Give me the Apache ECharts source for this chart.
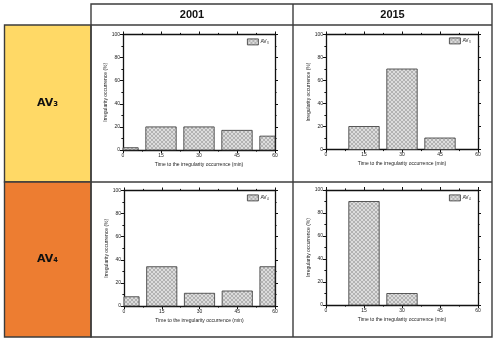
<!DOCTYPE html>
<html>
<head>
<meta charset="utf-8">
<script src="https://cdn.jsdelivr.net/npm/echarts@6/dist/echarts.min.js"></script>
<style>
  html, body { margin: 0; padding: 0; background: #fff; }
  #main { width: 500px; height: 343px; }
</style>
</head>
<body>
<div id="main"></div>
<script>
  // data
  const years = ['2001', '2015']
  const rows = ['AV₃', 'AV₄']
  const timeTicks = [0, 15, 30, 45, 60]
  const av3_2001 = [2, 20, 20, 17, 12]
  const av3_2015 = [0, 20, 70, 10, 0]
  const av4_2001 = [8, 34, 11, 13, 34]
  const av4_2015 = [0, 90, 10, 0, 0]
  const barSpan = 12 // bar width in minutes

  const panels = [
    { name: rows[0], values: av3_2001, grid: { left: 123, top: 34.5, width: 152, height: 115.5 }, legend: { left: 247, top: 38.5 } },
    { name: rows[0], values: av3_2015, grid: { left: 326, top: 34.5, width: 152, height: 115 }, legend: { left: 449, top: 37.5 } },
    { name: rows[1], values: av4_2001, grid: { left: 124, top: 190.5, width: 151, height: 115.5 }, legend: { left: 247, top: 194.5 } },
    { name: rows[1], values: av4_2015, grid: { left: 326, top: 190, width: 152, height: 115 }, legend: { left: 449, top: 194.5 } }
  ]

  // fine cross hatch fill for the bars
  function hatch() {
    const c = document.createElement('canvas')
    c.width = 4
    c.height = 4
    const ctx = c.getContext('2d')
    ctx.fillStyle = '#dcdcdc'
    ctx.fillRect(0, 0, 4, 4)
    ctx.fillStyle = '#b2b2b2'
    for (let i = 0; i < 4; i++) {
      ctx.fillRect(i, i, 1, 1)
      ctx.fillRect(3 - i, i, 1, 1)
    }
    return c
  }
  const pattern = { image: hatch(), repeat: 'repeat' }

  // bars centred on x, spanning barSpan minutes, clipped to the plot
  function renderBar(params, api) {
    const x = api.value(0)
    const y = api.value(1)
    const p0 = api.coord([x - barSpan / 2, y])
    const p1 = api.coord([x + barSpan / 2, 0])
    const cs = params.coordSys
    const shape = echarts.graphic.clipRectByRect(
      { x: p0[0], y: p0[1], width: p1[0] - p0[0], height: p1[1] - p0[1] },
      { x: cs.x, y: cs.y, width: cs.width, height: cs.height }
    )
    return shape && {
      type: 'rect',
      shape: shape,
      style: { fill: pattern, stroke: '#333', lineWidth: 0.8 }
    }
  }

  const black = '#111'
  const lineStyle = { color: black, width: 1.3 }
  const tick = { show: true, length: 3, lineStyle: { color: black, width: 1 } }
  const minor = { show: true, splitNumber: 2, length: 1.6, lineStyle: { color: black, width: 1 } }
  const label = { fontSize: 5, color: '#222', fontFamily: 'Liberation Sans' }

  const grid = [], xAxis = [], yAxis = [], series = [], legend = []
  panels.forEach((p, i) => {
    grid.push(Object.assign({ show: false }, p.grid))
    // bottom and top x axes
    xAxis.push({
      gridIndex: i, type: 'value', min: 0, max: 60, interval: 15, position: 'bottom',
      axisLine: { onZero: false, lineStyle: lineStyle },
      axisTick: tick, minorTick: minor, splitLine: { show: false },
      axisLabel: Object.assign({ margin: 3 }, label),
      name: 'Time to the irregularity occurrence (min)', nameLocation: 'middle', nameGap: 12,
      nameTextStyle: label
    })
    xAxis.push({
      gridIndex: i, type: 'value', min: 0, max: 60, interval: 15, position: 'top',
      axisLine: { onZero: false, lineStyle: lineStyle },
      axisTick: tick, minorTick: minor, splitLine: { show: false },
      axisLabel: { show: false }
    })
    // left and right y axes
    yAxis.push({
      gridIndex: i, type: 'value', min: 0, max: 100, interval: 20, position: 'left',
      axisLine: { show: true, onZero: false, lineStyle: lineStyle },
      axisTick: tick, minorTick: minor, splitLine: { show: false },
      axisLabel: Object.assign({ margin: 3 }, label),
      name: 'Irregularity occurrence (%)', nameLocation: 'middle', nameGap: 14,
      nameTextStyle: label
    })
    yAxis.push({
      gridIndex: i, type: 'value', min: 0, max: 100, interval: 20, position: 'right',
      axisLine: { show: true, onZero: false, lineStyle: lineStyle },
      axisTick: tick, minorTick: minor, splitLine: { show: false },
      axisLabel: { show: false }
    })
    series.push({
      name: p.name, type: 'custom',
      xAxisIndex: i * 2, yAxisIndex: i * 2,
      renderItem: renderBar,
      itemStyle: { color: pattern, borderColor: '#333', borderWidth: 0.8 },
      encode: { x: 0, y: 1 },
      data: timeTicks.map((t, k) => [t, p.values[k]]).filter(d => d[1] > 0)
    })
    legend.push({
      left: p.legend.left, top: p.legend.top, padding: 0,
      itemWidth: 11, itemHeight: 6, itemGap: 2,
      icon: 'rect',
      data: [p.name],
      itemStyle: { color: pattern, borderColor: '#333', borderWidth: 0.8 },
      textStyle: { fontSize: 5, color: '#222', padding: [0, 0, 0, -3] }
    })
  })

  // the table around the charts
  const border = { stroke: '#3c3c3c', lineWidth: 1.4 }
  const graphic = [
    { type: 'rect', shape: { x: 4.5, y: 25, width: 86.5, height: 157 }, style: Object.assign({ fill: '#ffd966' }, border) },
    { type: 'rect', shape: { x: 4.5, y: 182, width: 86.5, height: 155 }, style: Object.assign({ fill: '#ed7d31' }, border) },
    { type: 'rect', shape: { x: 91, y: 4, width: 401, height: 333 }, style: Object.assign({ fill: 'none' }, border) },
    { type: 'line', shape: { x1: 91, y1: 25, x2: 492, y2: 25 }, style: border },
    { type: 'line', shape: { x1: 91, y1: 182, x2: 492, y2: 182 }, style: border },
    { type: 'line', shape: { x1: 293, y1: 4, x2: 293, y2: 337 }, style: border },
    { type: 'text', x: 192, y: 14.5, style: { text: years[0], font: 'bold 11px "Liberation Sans"', fill: '#111', align: 'center', verticalAlign: 'middle' } },
    { type: 'text', x: 392.5, y: 14.5, style: { text: years[1], font: 'bold 11px "Liberation Sans"', fill: '#111', align: 'center', verticalAlign: 'middle' } },
    { type: 'text', x: 47.5, y: 103, style: { text: rows[0], font: 'bold 11px "DejaVu Sans"', fill: '#111', align: 'center', verticalAlign: 'middle' } },
    { type: 'text', x: 47.5, y: 259, style: { text: rows[1], font: 'bold 11px "DejaVu Sans"', fill: '#111', align: 'center', verticalAlign: 'middle' } }
  ]

  const chart = echarts.init(document.getElementById('main'))
  chart.setOption({
    animation: false,
    textStyle: { fontFamily: 'Liberation Sans' },
    graphic: graphic,
    legend: legend,
    grid: grid,
    xAxis: xAxis,
    yAxis: yAxis,
    series: series
  })
</script>
</body>
</html>
